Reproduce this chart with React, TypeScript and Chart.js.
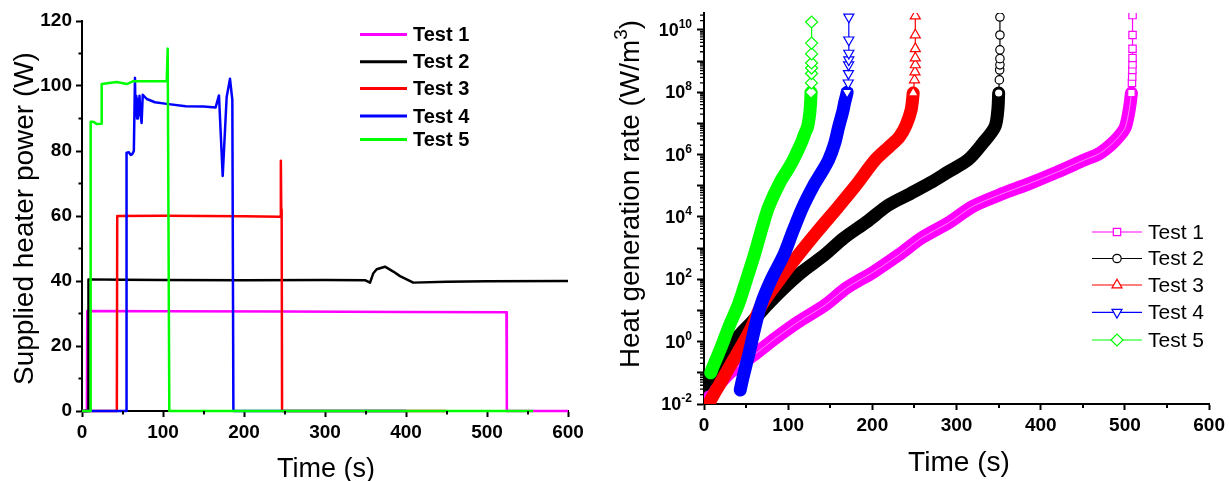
import React, { useEffect, useRef } from 'react';
import { Chart, registerables } from 'chart.js';

Chart.register(...registerables);

const FONT = '"Liberation Sans", Arial, Helvetica, sans-serif';

const testLabels = ['Test 1', 'Test 2', 'Test 3', 'Test 4', 'Test 5'];
const testColors = ['#FF00FF', '#000000', '#FF0000', '#0000FF', '#00FF00'];

// ---------- shared time axis ----------
const timeTicks = [0, 100, 200, 300, 400, 500, 600];
const timeMinorTicks = [50, 150, 250, 350, 450, 550];

// ---------- left panel: supplied heater power (W) ----------
const powerTicks = [0, 20, 40, 60, 80, 100, 120];
const powerMinorTicks = [10, 30, 50, 70, 90, 110];

const power1Time = [0, 6, 6.5, 100, 250, 400, 524, 524.5, 600];
const power1Watts = [0, 0, 30.8, 30.7, 30.6, 30.5, 30.4, 0, 0];

const power2Time = [0, 7.5, 8, 50, 100, 200, 300, 350, 355.6, 359.7, 363.8, 374, 384.3, 392.6, 400.8, 409, 450, 500, 600];
const power2Watts = [0, 0, 40.5, 40.4, 40.3, 40.2, 40.3, 40.2, 39.5, 42.4, 43.6, 44.4, 42.9, 41.5, 40.5, 39.5, 39.8, 39.9, 40.0];

const power3Time = [0, 43, 43.5, 100, 150, 200, 245, 245.5, 246, 246.5, 247, 450];
const power3Watts = [0, 0, 60, 60.1, 60, 59.9, 59.8, 77, 62, 61, 0, 0];

const power4Time = [0, 54.5, 55, 58, 60, 62, 64, 65.4, 66, 67, 68, 69, 70, 71, 72, 73.6, 75, 80, 90, 104.5, 128, 150, 165, 169.1, 173.7, 178.6, 182.7, 185.6, 186.9, 400];
const power4Watts = [0, 0, 79.5, 79.6, 78.8, 79, 80, 102.5, 91, 97, 90, 96, 91, 97, 92, 88.6, 97.3, 96, 95, 94.5, 93.8, 93.7, 93.4, 97.1, 72.3, 96.6, 102.2, 95.7, 0, 0];

const power5Time = [0, 10.5, 10.7, 13.2, 16, 18, 24, 24.3, 42.9, 55.2, 63.4, 80, 104.6, 105.8, 107.8, 557];
const power5Watts = [0, 0, 89, 89, 88.7, 88.3, 88.4, 100.6, 101.2, 100.6, 101.5, 101.5, 101.5, 111.5, 0, 0];

// ---------- right panel: heat generation rate (W/m3), log scale ----------
const rateExponents = [-2, 0, 2, 4, 6, 8, 10];
const rateDecades = [-2, -1, 0, 1, 2, 3, 4, 5, 6, 7, 8, 9, 10];
const rateMin = 1e-2;
const rateMax = 3.5e10;

const rate1Time = [0, 5, 14, 32, 59, 85, 112, 144, 169, 201, 231, 258, 292, 318, 350, 387, 420, 452, 470, 485, 495, 500.6, 505, 507.7, 508.3, 508.6, 508.8, 509, 509, 509, 509, 509];
const rate1Value = [1.0e-2, 1.5e-2, 3.2e-2, 1.07e-1, 3.7e-1, 1.3, 4.3, 15, 52, 170, 600, 2100, 6900, 2.1e4, 5.0e4, 1.2e5, 2.8e5, 6.8e5, 1.1e6, 2.3e6, 4.5e6, 7.8e6, 2.7e7, 9.5e7, 2.0e8, 3.2e8, 5.2e8, 7.9e8, 1.26e9, 2.5e9, 6.9e9, 3.0e10];

const rate2Time = [0, 2, 6, 9, 12, 26, 39, 57, 75, 94.7, 116, 143, 166, 193, 219, 245, 269, 290, 313.6, 331, 345.5, 349, 350, 350.8, 351.2, 351.5, 351.5, 351.5, 351.5, 351.5];
const rate2Value = [4.0e-2, 5.0e-2, 6.3e-2, 7.1e-2, 1.07e-1, 3.7e-1, 1.3, 4.3, 15, 52, 170, 600, 2100, 6900, 2.4e4, 5.6e4, 1.26e5, 2.8e5, 6.8e5, 2.3e6, 7.8e6, 2.7e7, 9.5e7, 2.5e8, 5.2e8, 7.6e8, 1.2e9, 2.3e9, 6.9e9, 2.6e10];

const rate3Time = [5, 8, 20, 30, 40, 55, 68.6, 90, 112, 135, 160, 180, 203.5, 220, 232, 240, 246, 248.5, 250, 250.6, 251, 251, 251, 251, 251];
const rate3Value = [7.9e-3, 1.35e-2, 5.0e-2, 1.5e-1, 4.4e-1, 2.4, 15, 100, 600, 3500, 2.2e4, 1.0e5, 6.8e5, 1.8e6, 3.7e6, 8.9e6, 2.7e7, 9.5e7, 2.5e8, 4.5e8, 7.6e8, 1.26e9, 2.5e9, 6.9e9, 2.8e10];

const rate4Time = [43, 45, 50, 53, 60, 67.5, 80, 95, 105, 117, 130, 140, 148, 155, 160, 165, 167, 170, 171.3, 171.6, 171.8, 172, 172, 172, 172];
const rate4Value = [2.8e-2, 5.0e-2, 1.8e-1, 3.7e-1, 2.5, 15, 100, 630, 3200, 2.0e4, 1.0e5, 2.8e5, 6.8e5, 2.2e6, 7.9e6, 2.5e7, 4.6e7, 1.0e8, 2.0e8, 4.0e8, 7.6e8, 1.1e9, 1.8e9, 4.8e9, 2.6e10];

const rate5Time = [8, 10, 20, 30, 41, 50, 60, 70, 77, 90, 100, 106, 115, 120, 123, 125.5, 126.6, 127.2, 127.6, 127.8, 127.8, 127.8, 127.8, 127.8, 127.8];
const rate5Value = [1.0e-1, 1.4e-1, 6.3e-1, 3.2, 16, 89, 630, 5600, 2.2e4, 1.26e5, 3.5e5, 6.8e5, 2.2e6, 5.0e6, 7.8e6, 2.0e7, 4.6e7, 1.0e8, 2.0e8, 4.0e8, 6.0e8, 8.7e8, 1.7e9, 3.8e9, 1.8e10];

const powerSeries = [
  [power1Time, power1Watts],
  [power2Time, power2Watts],
  [power3Time, power3Watts],
  [power4Time, power4Watts],
  [power5Time, power5Watts],
];
const rateSeries = [
  [rate1Time, rate1Value],
  [rate2Time, rate2Value],
  [rate3Time, rate3Value],
  [rate4Time, rate4Value],
  [rate5Time, rate5Value],
];

const markerStyles = ['rect', 'circle', 'triangle', 'triangle', 'rectRot'];
const markerRotations = [0, 0, 0, 180, 0];
const markerRadii = [5.2, 4.2, 5.8, 5.8, 6];
const BAND_TOP = 1.0e8;
const MARK_FROM = 9e7;
const BAND_WIDTH = 13;

const toPoints = (t: number[], v: number[]) => t.map((x, i) => ({ x, y: v[i] }));

function drawMarker(ctx: CanvasRenderingContext2D, style: string, rot: number, r: number, x: number, y: number, color: string) {
  ctx.save();
  ctx.beginPath();
  if (style === 'circle') {
    ctx.arc(x, y, r, 0, Math.PI * 2);
  } else if (style === 'rect') {
    const s = r * Math.SQRT1_2;
    ctx.rect(x - s, y - s, 2 * s, 2 * s);
  } else if (style === 'rectRot') {
    ctx.moveTo(x - r, y);
    ctx.lineTo(x, y - r);
    ctx.lineTo(x + r, y);
    ctx.lineTo(x, y + r);
    ctx.closePath();
  } else {
    let rad = (rot * Math.PI) / 180;
    for (let k = 0; k < 3; k++) {
      const px = x + Math.sin(rad) * r;
      const py = y - Math.cos(rad) * r;
      if (k === 0) ctx.moveTo(px, py);
      else ctx.lineTo(px, py);
      rad += (2 * Math.PI) / 3;
    }
    ctx.closePath();
  }
  ctx.fillStyle = '#fff';
  ctx.fill();
  ctx.lineWidth = 1.2;
  ctx.strokeStyle = color;
  ctx.stroke();
  ctx.restore();
}

function minorTicks(chart: any, xs: number[], ys: number[], len: number, yWidth: number) {
  const { ctx, chartArea, scales } = chart;
  ctx.save();
  ctx.strokeStyle = '#000';
  ctx.lineWidth = 2;
  ctx.beginPath();
  for (const v of xs) {
    const px = Math.round(scales.x.getPixelForValue(v));
    ctx.moveTo(px, chartArea.bottom);
    ctx.lineTo(px, chartArea.bottom + len);
  }
  ctx.stroke();
  ctx.lineWidth = yWidth;
  ctx.beginPath();
  for (const v of ys) {
    const py = scales.y.getPixelForValue(v);
    ctx.moveTo(chartArea.left, py);
    ctx.lineTo(chartArea.left - len, py);
  }
  ctx.stroke();
  ctx.restore();
}

// set a font so that the text spans the given length
function fitFont(ctx: CanvasRenderingContext2D, text: string, weight: string, length: number) {
  ctx.font = `${weight} 28px ${FONT}`;
  const w = ctx.measureText(text).width;
  const size = (28 * length) / w;
  ctx.font = `${weight} ${size}px ${FONT}`;
  return size;
}

const axisCommon = {
  border: { display: true, color: '#000', width: 2 },
  grid: { drawOnChartArea: false, drawTicks: true, tickLength: 6, tickWidth: 2, tickColor: '#000' },
};
const tickFont = { family: FONT, size: 19, weight: 'bold' as const };

const leftDecor = {
  id: 'leftDecor',
  afterDraw(chart: any) {
    const { ctx } = chart;
    minorTicks(chart, timeMinorTicks, powerMinorTicks, 3.5, 2);
    ctx.save();
    ctx.fillStyle = '#000';
    ctx.textAlign = 'center';
    ctx.textBaseline = 'alphabetic';
    fitFont(ctx, 'Time (s)', 'normal', 98);
    ctx.fillText('Time (s)', 326, 477);
    ctx.save();
    ctx.translate(33, 218.5);
    ctx.rotate(-Math.PI / 2);
    fitFont(ctx, 'Supplied heater power (W)', 'normal', 333);
    ctx.fillText('Supplied heater power (W)', 0, 0);
    ctx.restore();
    const rows = [34.5, 61.7, 88.5, 116, 139.5];
    ctx.font = `bold 20px ${FONT}`;
    ctx.textAlign = 'left';
    ctx.textBaseline = 'middle';
    testLabels.forEach((label, i) => {
      ctx.strokeStyle = testColors[i];
      ctx.lineWidth = 3;
      ctx.beginPath();
      ctx.moveTo(360, rows[i]);
      ctx.lineTo(407, rows[i]);
      ctx.stroke();
      ctx.fillText(label, 413, rows[i] + 1);
    });
    ctx.restore();
  },
};

const rightDecor = {
  id: 'rightDecor',
  afterDatasetDraw(chart: any, args: any) {
    // faint light core of the hollow-square band of Test 1
    if (args.index !== 0) return;
    const { ctx, chartArea } = chart;
    const pts = chart.getDatasetMeta(0).data.filter((_: any, j: number) => rate1Value[j] < BAND_TOP);
    if (pts.length < 2) return;
    ctx.save();
    ctx.beginPath();
    ctx.rect(chartArea.left, chartArea.top, chartArea.right - chartArea.left, chartArea.bottom - chartArea.top);
    ctx.clip();
    ctx.strokeStyle = 'rgba(255,255,255,0.5)';
    ctx.lineWidth = 1;
    ctx.beginPath();
    ctx.moveTo(pts[0].x, pts[0].y);
    for (let k = 1; k < pts.length; k++) {
      const a = pts[k - 1];
      const b = pts[k];
      ctx.bezierCurveTo(a.cp2x ?? a.x, a.cp2y ?? a.y, b.cp1x ?? b.x, b.cp1y ?? b.y, b.x, b.y);
    }
    ctx.stroke();
    ctx.restore();
  },
  afterDraw(chart: any) {
    const { ctx, chartArea, scales } = chart;
    const ys: number[] = [];
    rateDecades.forEach((d) => {
      for (let m = 2; m <= 9; m++) {
        const v = m * Math.pow(10, d);
        if (v < rateMax) ys.push(v);
      }
    });
    minorTicks(chart, timeMinorTicks, ys, 4, 1.3);
    ctx.save();
    ctx.fillStyle = '#000';
    // decade labels 10^n
    const right = chartArea.left - 12;
    rateExponents.forEach((e) => {
      const py = scales.y.getPixelForValue(Math.pow(10, e));
      ctx.font = `bold 12px ${FONT}`;
      const exp = String(e);
      const ew = ctx.measureText(exp).width;
      ctx.textAlign = 'left';
      ctx.textBaseline = 'alphabetic';
      ctx.fillText(exp, right - ew, py - 2);
      ctx.font = `bold 18px ${FONT}`;
      ctx.textAlign = 'right';
      ctx.fillText('10', right - ew, py + 6);
    });
    // titles
    ctx.textAlign = 'center';
    ctx.textBaseline = 'alphabetic';
    fitFont(ctx, 'Time (s)', 'normal', 102);
    ctx.fillText('Time (s)', 359, 471);
    // rotated y title with a raised "3"
    const main1 = 'Heat generation rate (W/m';
    const sup = '3';
    const main2 = ')';
    const base = 28;
    ctx.font = `${base}px ${FONT}`;
    const w1 = ctx.measureText(main1).width;
    const w3 = ctx.measureText(main2).width;
    ctx.font = `${base * 0.68}px ${FONT}`;
    const w2 = ctx.measureText(sup).width;
    const k = 348 / (w1 + w2 + w3);
    const size = base * k;
    ctx.save();
    ctx.translate(39, 194);
    ctx.rotate(-Math.PI / 2);
    ctx.textAlign = 'left';
    let x0 = -174;
    ctx.font = `${size}px ${FONT}`;
    ctx.fillText(main1, x0, 0);
    x0 += w1 * k;
    ctx.font = `${size * 0.68}px ${FONT}`;
    ctx.fillText(sup, x0, -size * 0.42);
    x0 += w2 * k;
    ctx.font = `${size}px ${FONT}`;
    ctx.fillText(main2, x0, 0);
    ctx.restore();
    // legend
    const rows = [232, 258.5, 285, 312.3, 340];
    ctx.font = `21px ${FONT}`;
    ctx.textAlign = 'left';
    ctx.textBaseline = 'middle';
    testLabels.forEach((label, i) => {
      ctx.strokeStyle = testColors[i];
      ctx.lineWidth = 1.2;
      ctx.beginPath();
      ctx.moveTo(492, rows[i]);
      ctx.lineTo(542, rows[i]);
      ctx.stroke();
      drawMarker(ctx, markerStyles[i], markerRotations[i], markerRadii[i], 517, rows[i], testColors[i]);
      ctx.fillStyle = '#000';
      ctx.fillText(label, 548, rows[i] + 1);
    });
    ctx.restore();
  },
};

export default function App() {
  const leftRef = useRef<HTMLCanvasElement | null>(null);
  const rightRef = useRef<HTMLCanvasElement | null>(null);

  useEffect(() => {
    if (!leftRef.current || !rightRef.current) return;

    const left = new Chart(leftRef.current, {
      type: 'line',
      data: {
        datasets: powerSeries.map(([t, v], i) => ({
          label: testLabels[i],
          data: toPoints(t, v),
          borderColor: testColors[i],
          backgroundColor: testColors[i],
          borderWidth: 2.5,
          borderJoinStyle: 'round' as const,
          pointRadius: 0,
          pointHoverRadius: 0,
          tension: 0,
          order: 5 - i,
          clip: 4,
        })),
      },
      options: {
        animation: false,
        responsive: false,
        maintainAspectRatio: false,
        events: [],
        layout: { padding: { left: 0, right: 32, top: 21, bottom: 0 } },
        plugins: { legend: { display: false }, tooltip: { enabled: false }, title: { display: false } },
        scales: {
          x: {
            type: 'linear',
            min: 0,
            max: 600,
            ...axisCommon,
            afterBuildTicks: (s: any) => { s.ticks = timeTicks.map((v) => ({ value: v })); },
            afterFit: (s: any) => { s.height = 70; },
            ticks: { font: tickFont, color: '#000', padding: 4, maxRotation: 0, autoSkip: false },
          },
          y: {
            type: 'linear',
            min: 0,
            max: 120,
            ...axisCommon,
            afterBuildTicks: (s: any) => { s.ticks = powerTicks.map((v) => ({ value: v })); },
            afterFit: (s: any) => { s.width = 82; },
            ticks: { font: tickFont, color: '#000', padding: 4, autoSkip: false },
          },
        },
      } as any,
      plugins: [leftDecor],
    });

    const right = new Chart(rightRef.current, {
      type: 'line',
      data: {
        datasets: rateSeries.map(([t, v], i) => ({
          label: testLabels[i],
          data: toPoints(t, v),
          borderColor: testColors[i],
          backgroundColor: '#fff',
          borderWidth: BAND_WIDTH,
          segment: { borderWidth: (c: any) => (c.p1.parsed.y > BAND_TOP * 1.01 ? 1.2 : BAND_WIDTH) },
          borderJoinStyle: 'round' as const,
          borderCapStyle: 'round' as const,
          pointStyle: markerStyles[i],
          pointRotation: markerRotations[i],
          pointRadius: (c: any) => (c.raw && c.raw.y >= MARK_FROM ? markerRadii[i] : 0),
          pointBorderWidth: 1.2,
          pointBorderColor: testColors[i],
          pointBackgroundColor: '#fff',
          pointHoverRadius: 0,
          tension: 0.3,
          order: 5 - i,
          clip: 0,
        })),
      },
      options: {
        animation: false,
        responsive: false,
        maintainAspectRatio: false,
        events: [],
        layout: { padding: { left: 0, right: 17, top: 13, bottom: 0 } },
        plugins: { legend: { display: false }, tooltip: { enabled: false }, title: { display: false } },
        scales: {
          x: {
            type: 'linear',
            min: 0,
            max: 600,
            ...axisCommon,
            afterBuildTicks: (s: any) => { s.ticks = timeTicks.map((v) => ({ value: v })); },
            afterFit: (s: any) => { s.height = 77; },
            ticks: { font: tickFont, color: '#000', padding: 4, maxRotation: 0, autoSkip: false },
          },
          y: {
            type: 'logarithmic',
            min: rateMin,
            max: rateMax,
            border: { display: true, color: '#000', width: 2 },
            grid: { drawOnChartArea: false, drawTicks: true, tickLength: 7, tickWidth: 2, tickColor: '#000' },
            afterBuildTicks: (s: any) => { s.ticks = rateDecades.map((d) => ({ value: Math.pow(10, d), major: true })); },
            afterFit: (s: any) => { s.width = 104; },
            ticks: { display: false, autoSkip: false },
          },
        },
      } as any,
      plugins: [rightDecor],
    });

    return () => {
      left.destroy();
      right.destroy();
    };
  }, []);

  return (
    <div style={{ position: 'fixed', left: 0, top: 0, width: 1229, height: 481, background: '#fff' }}>
      <canvas ref={leftRef} width={600} height={481} style={{ position: 'absolute', left: 0, top: 0, width: 600, height: 481 }} />
      <canvas ref={rightRef} width={629} height={481} style={{ position: 'absolute', left: 600, top: 0, width: 629, height: 481 }} />
    </div>
  );
}
